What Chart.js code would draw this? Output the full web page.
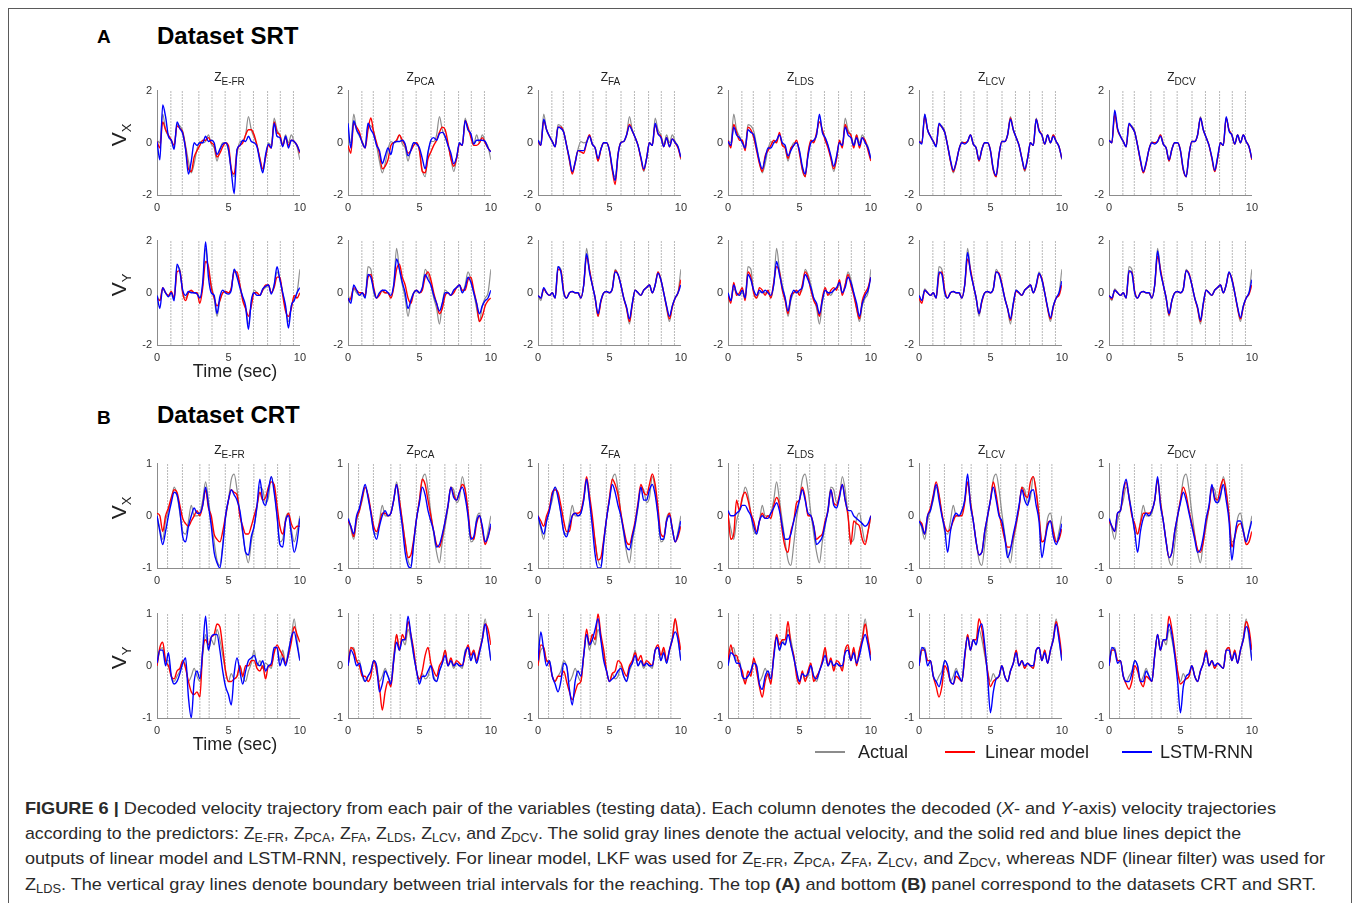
<!DOCTYPE html>
<html>
<head>
<meta charset="utf-8">
<script src="https://cdn.jsdelivr.net/npm/chart.js@4.4.0/dist/chart.umd.min.js"></script>
<style>
  html, body { margin: 0; padding: 0; background: #fff; }
  body { width: 1360px; height: 903px; position: relative; overflow: hidden; font-family: "Liberation Sans", Arial, sans-serif; }
  .frame { position: absolute; left: 8px; top: 8px; width: 1342px; height: 920px; border: 1.5px solid #5a5a5a; }
  .abs { position: absolute; white-space: nowrap; color: #000; }
  .letter { font-weight: bold; font-size: 19px; line-height: 19px; }
  .dtitle { font-weight: bold; font-size: 24px; line-height: 24px; }
  .ptitle { font-size: 12px; line-height: 12px; color: #222; transform: translateX(-50%); }
  .ptitle sub { font-size: 10px; vertical-align: -4px; }
  .ylab { font-size: 21px; line-height: 21px; color: #222; transform: translate(-50%, -50%) rotate(-90deg); }
  .ylab sub { font-size: 13px; vertical-align: -5px; }
  .xlab { font-size: 18px; line-height: 18px; color: #222; transform: translate(-50%, -50%); }
  .leg { font-size: 18px; line-height: 18px; color: #222; }
  .legline { position: absolute; height: 2px; }
  .cap { position: absolute; left: 25px; font-size: 17px; line-height: 17px; color: #2a2a2a; white-space: nowrap;
         font-family: "Liberation Sans Narrow", "Liberation Sans", Arial, sans-serif; transform-origin: 0 50%; }
  .cap sub { font-size: 12px; vertical-align: -3px; }
  .panel { position: absolute; }
</style>
</head>
<body>
<div class="frame"></div>

<div class="abs letter" style="left:97px; top:27px;">A</div>
<div class="abs dtitle" style="left:157px; top:24px;">Dataset SRT</div>
<div class="abs letter" style="left:97px; top:408px;">B</div>
<div class="abs dtitle" style="left:157px; top:403px;">Dataset CRT</div>

<div id="panels"></div>

<div class="legline" style="left:815px; top:751px; width:30px; background:#8c8c8c;"></div>
<div class="abs leg" style="left:858px; top:743px;">Actual</div>
<div class="legline" style="left:945px; top:751px; width:30px; background:#ff0000;"></div>
<div class="abs leg" style="left:985px; top:743px;">Linear model</div>
<div class="legline" style="left:1122px; top:751px; width:30px; background:#0000ff;"></div>
<div class="abs leg" style="left:1160px; top:743px;">LSTM-RNN</div>

<div class="cap" data-w="1251" style="top:800px;"><b>FIGURE 6 |</b> Decoded velocity trajectory from each pair of the variables (testing data). Each column denotes the decoded (<i>X</i>- and <i>Y</i>-axis) velocity trajectories</div>
<div class="cap" data-w="1216" style="top:825px;">according to the predictors: Z<sub>E-FR</sub>, Z<sub>PCA</sub>, Z<sub>FA</sub>, Z<sub>LDS</sub>, Z<sub>LCV</sub>, and Z<sub>DCV</sub>. The solid gray lines denote the actual velocity, and the solid red and blue lines depict the</div>
<div class="cap" data-w="1300" style="top:850px;">outputs of linear model and LSTM-RNN, respectively. For linear model, LKF was used for Z<sub>E-FR</sub>, Z<sub>PCA</sub>, Z<sub>FA</sub>, Z<sub>LCV</sub>, and Z<sub>DCV</sub>, whereas NDF (linear filter) was used for</div>
<div class="cap" data-w="1291" style="top:876px;">Z<sub>LDS</sub>. The vertical gray lines denote boundary between trial intervals for the reaching. The top <b>(A)</b> and bottom <b>(B)</b> panel correspond to the datasets CRT and SRT.</div>

<script>
// time axis (sec)
const time = [0,0.2,0.4,0.6,0.8,1,1.2,1.4,1.6,1.8,2,2.2,2.4,2.6,2.8,3,3.2,3.4,3.6,3.8,4,4.2,4.4,4.6,4.8,5,5.2,5.4,5.6,5.8,6,6.2,6.4,6.6,6.8,7,7.2,7.4,7.6,7.8,8,8.2,8.4,8.6,8.8,9,9.2,9.4,9.6,9.8,10];
const predictors = ["E-FR", "PCA", "FA", "LDS", "LCV", "DCV"];
const xTicks = [0, 5, 10];

// trial boundaries (sec)
const srtBounds = [0.97, 1.77, 2.93, 3.85, 4.77, 5.81, 6.75, 7.74, 8.63, 9.55];
const crtBounds = [0.74, 1.78, 3.0, 3.65, 4.78, 5.72, 6.78, 7.57, 8.44, 9.3];

// ---- Dataset SRT, V_X ----
const srtVxActual = [0.1,0.0,1.1,0.5,0.25,0.05,-0.15,0.7,0.65,0.45,
  -0.1,-0.7,-1.15,-0.8,-0.25,0.05,0.0,0.05,0.3,-0.05,
  -0.2,-0.7,-0.25,0.0,0.0,-0.3,-1.05,-1.3,-0.45,0.05,
  0.05,0.3,1.0,0.5,0.2,-0.1,-0.6,-1.1,-0.6,0.0,
  -0.1,0.95,0.5,0.3,-0.05,0.3,0.0,0.3,0.05,-0.15,
  -0.65];
const srtVxLinear = [
  [0.05,-0.2,0.8,0.5,0.3,0.1,-0.1,0.65,0.55,0.4,
   -0.2,-1.0,-1.1,-0.55,-0.3,-0.1,0.1,0.1,0.2,0.0,
   -0.1,-0.55,-0.4,-0.15,0.0,-0.1,-1.0,-1.2,-0.3,-0.1,
   0.0,0.3,0.5,0.5,0.3,-0.1,-0.6,-1.0,-0.55,-0.1,
   -0.2,0.8,0.4,0.3,-0.1,0.2,-0.1,0.1,0.05,-0.1,
   -0.4],
  [-0.1,-0.4,0.75,0.6,0.4,0.0,-0.2,0.5,0.95,0.4,
   0.0,-0.4,-1.0,-0.9,-0.65,-0.1,0.0,0.1,0.3,0.1,
   -0.1,-0.4,-0.3,-0.1,0.0,-0.3,-1.1,-1.15,-0.6,-0.35,
   -0.1,0.1,0.4,0.6,0.5,0.0,-0.6,-0.9,-0.6,-0.05,
   -0.1,0.85,0.6,0.2,-0.1,-0.1,0.0,0.2,0.0,-0.2,
   -0.35],
  [0.05,-0.1,0.85,0.5,0.25,0.05,-0.15,0.6,0.6,0.4,
   -0.1,-0.65,-1.2,-0.75,-0.3,-0.35,-0.4,0.0,0.3,-0.05,
   -0.2,-0.7,-0.25,0.0,0.0,-0.3,-1.05,-1.6,-0.45,0.0,
   0.05,0.3,0.7,0.45,0.2,-0.1,-0.6,-1.05,-0.6,0.0,
   -0.1,0.7,0.35,0.25,-0.15,0.2,-0.15,0.15,0.0,-0.2,
   -0.6],
  [0.1,-0.2,0.7,0.4,0.1,0.1,-0.3,0.6,0.5,0.2,
   -0.3,-0.8,-1.1,-0.5,-0.3,-0.1,0.1,0.0,0.4,-0.1,
   -0.2,-0.6,-0.2,-0.1,0.1,-0.4,-1.0,-1.3,-0.4,0.1,
   0.0,0.4,0.8,0.5,0.1,-0.2,-0.6,-1.0,-0.6,0.1,
   -0.2,0.7,0.4,0.3,-0.2,0.3,-0.2,0.2,0.1,-0.3,
   -0.7],
  [0.05,0.0,1.0,0.5,0.25,0.05,-0.1,0.7,0.6,0.4,
   -0.1,-0.7,-1.1,-0.75,-0.25,0.0,0.0,0.05,0.3,-0.05,
   -0.2,-0.7,-0.25,0.0,0.0,-0.3,-1.05,-1.3,-0.45,0.05,
   0.05,0.3,0.95,0.5,0.2,-0.1,-0.6,-1.05,-0.6,0.0,
   -0.1,0.9,0.5,0.3,-0.05,0.3,0.0,0.3,0.05,-0.15,
   -0.6],
  [0.1,0.0,1.1,0.5,0.25,0.05,-0.15,0.7,0.6,0.4,
   -0.1,-0.7,-1.15,-0.8,-0.25,0.0,0.0,0.05,0.3,-0.05,
   -0.2,-0.7,-0.25,0.0,0.0,-0.3,-1.05,-1.3,-0.45,0.05,
   0.05,0.3,0.95,0.5,0.2,-0.1,-0.6,-1.1,-0.6,0.0,
   -0.1,0.95,0.5,0.3,-0.05,0.3,0.0,0.3,0.05,-0.15,
   -0.65]
];
const srtVxLstm = [
  [0.05,-0.65,1.45,1.0,0.25,0.1,-0.25,0.8,0.55,0.35,
   -0.25,-1.2,-0.7,0.0,-0.1,0.0,0.0,0.25,0.05,0.1,
   0.0,-0.45,-0.25,-0.05,0.0,-0.25,-1.1,-1.95,-0.25,-0.1,
   0.1,0.05,0.25,0.05,0.0,-0.15,-0.7,-1.15,-0.45,-0.05,
   -0.2,0.75,0.25,0.2,-0.15,0.25,-0.2,0.1,0.05,-0.1,
   -0.35],
  [0.75,-0.2,0.85,0.5,0.3,0.0,-0.2,0.75,0.5,0.3,
   -0.1,-0.3,-0.8,-0.5,-0.2,-0.45,0.0,0.05,0.05,0.1,
   -0.05,-0.5,-0.3,0.0,-0.05,-0.2,-0.6,-1.0,-0.35,0.1,
   0.2,0.1,0.35,0.4,0.25,-0.1,-0.4,-0.8,-0.55,0.0,
   -0.1,0.85,0.5,0.35,-0.05,0.1,0.1,0.1,0.05,-0.2,
   -0.35],
  [0.1,-0.1,0.9,0.5,0.25,0.05,-0.15,0.6,0.55,0.4,
   -0.1,-0.6,-1.1,-0.75,-0.3,-0.3,-0.3,0.0,0.25,-0.05,
   -0.2,-0.6,-0.25,0.0,0.0,-0.3,-0.95,-1.45,-0.45,0.0,
   0.05,0.3,0.65,0.45,0.2,-0.1,-0.55,-1.0,-0.6,0.0,
   -0.1,0.75,0.35,0.2,-0.15,0.2,-0.15,0.15,0.0,-0.15,
   -0.55],
  [0.05,-0.1,0.6,0.3,0.2,0.0,-0.2,0.5,0.4,0.3,
   -0.2,-0.7,-1.0,-0.6,-0.2,-0.2,0.0,0.1,0.3,0.0,
   -0.1,-0.5,-0.3,-0.1,0.0,-0.3,-0.9,-1.2,-0.5,0.0,
   0.1,0.3,1.1,0.4,0.2,-0.1,-0.5,-0.9,-0.5,0.0,
   -0.1,0.6,0.3,0.2,-0.1,0.2,-0.1,0.2,0.0,-0.2,
   -0.6],
  [0.05,-0.05,1.1,0.5,0.25,0.05,-0.15,0.75,0.6,0.4,
   -0.1,-0.65,-1.05,-0.75,-0.25,0.0,-0.05,0.05,0.3,-0.05,
   -0.2,-0.65,-0.25,0.0,0.0,-0.3,-1.0,-1.25,-0.45,0.05,
   0.05,0.3,0.9,0.5,0.2,-0.1,-0.6,-1.0,-0.6,0.0,
   -0.1,0.9,0.45,0.3,-0.05,0.3,0.0,0.25,0.05,-0.15,
   -0.6],
  [0.1,0.0,1.25,0.55,0.25,0.05,-0.15,0.75,0.6,0.4,
   -0.1,-0.65,-1.1,-0.75,-0.25,0.0,-0.05,0.05,0.25,-0.05,
   -0.2,-0.65,-0.25,0.0,0.0,-0.3,-1.0,-1.3,-0.45,0.05,
   0.05,0.3,0.95,0.5,0.2,-0.1,-0.55,-1.05,-0.55,0.0,
   -0.1,1.0,0.45,0.3,-0.05,0.3,0.0,0.3,0.05,-0.15,
   -0.6]
];

// ---- Dataset SRT, V_Y ----
const srtVyActual = [-0.1,-0.3,0.15,0.0,-0.1,0.0,-0.2,1.0,0.9,0.0,
  -0.2,0.0,0.05,0.0,0.0,-0.2,0.3,1.7,0.9,0.3,
  -0.2,-0.9,-0.3,0.0,0.05,0.0,0.15,0.9,0.7,0.3,
  -0.2,-0.6,-1.2,-0.4,0.1,0.0,-0.1,0.1,0.2,0.3,
  0.0,0.3,0.8,0.5,0.0,-0.6,-1.1,-0.5,-0.2,0.0,
  0.9];
const srtVyLinear = [
  [-0.2,-0.3,0.2,0.0,-0.1,0.05,-0.2,0.8,0.85,0.0,
   -0.3,0.0,0.1,0.0,0.0,-0.4,0.2,1.2,1.0,0.2,
   -0.2,-0.5,-0.3,0.0,0.05,0.0,0.2,0.8,0.8,0.3,
   -0.3,-0.6,-0.9,-0.5,0.0,0.0,-0.1,0.1,0.3,0.3,
   0.0,0.2,0.6,0.6,-0.1,-0.7,-0.9,-0.6,-0.1,-0.2,
   0.0],
  [-0.3,-0.2,0.2,0.1,0.0,0.0,-0.1,0.6,0.7,0.2,
   -0.2,-0.1,0.1,0.0,0.0,-0.2,0.2,0.9,1.1,0.6,
   0.3,-0.2,-0.4,0.0,0.1,0.0,0.1,0.6,0.8,0.5,
   0.0,-0.4,-0.8,-0.6,-0.1,0.0,-0.1,0.0,0.2,0.3,
   0.1,0.1,0.5,0.6,0.1,-0.4,-1.1,-0.9,-0.5,-0.3,
   -0.2],
  [-0.1,-0.2,0.15,0.0,-0.1,0.0,-0.2,0.9,0.85,0.05,
   -0.2,0.0,0.05,0.0,0.0,-0.2,0.3,1.4,0.9,0.3,
   -0.2,-0.9,-0.35,0.0,0.05,0.0,0.15,0.85,0.7,0.3,
   -0.2,-0.6,-1.1,-0.45,0.1,0.0,-0.1,0.1,0.2,0.3,
   0.0,0.3,0.8,0.5,0.0,-0.55,-1.0,-0.55,-0.2,0.0,
   0.5],
  [-0.1,-0.4,0.4,-0.1,0.0,0.2,-0.3,0.8,0.6,0.0,
   -0.2,0.2,0.1,-0.1,0.1,-0.2,0.4,1.0,0.8,0.1,
   -0.3,-0.8,-0.1,0.0,0.1,-0.1,0.3,0.8,0.6,0.1,
   -0.3,-0.5,-0.9,-0.2,0.2,-0.1,0.1,0.2,0.1,0.5,
   -0.1,0.3,0.7,0.3,-0.1,-0.6,-1.0,-0.3,0.0,0.2,
   0.6],
  [-0.2,-0.4,0.1,0.0,-0.1,0.0,-0.2,0.7,0.8,0.1,
   -0.2,0.0,0.05,0.0,0.0,-0.2,0.3,1.3,0.9,0.3,
   -0.2,-0.8,-0.35,0.0,0.05,0.0,0.15,0.8,0.75,0.35,
   -0.2,-0.6,-1.05,-0.45,0.05,0.0,-0.1,0.1,0.2,0.3,
   0.0,0.25,0.7,0.55,0.0,-0.6,-1.0,-0.55,-0.2,-0.1,
   0.3],
  [-0.1,-0.25,0.1,0.0,-0.1,0.0,-0.2,0.8,0.8,0.05,
   -0.2,0.0,0.05,0.0,0.0,-0.2,0.3,1.4,0.9,0.3,
   -0.2,-0.85,-0.3,0.0,0.05,0.0,0.15,0.85,0.75,0.3,
   -0.2,-0.6,-1.1,-0.45,0.1,0.0,-0.1,0.1,0.2,0.3,
   0.0,0.3,0.75,0.55,0.0,-0.6,-1.0,-0.55,-0.2,-0.05,
   0.3]
];
const srtVyLstm = [
  [-0.1,-0.6,0.2,0.0,-0.15,0.0,-0.3,1.1,0.8,0.1,
   -0.1,0.05,0.0,0.0,-0.05,-0.2,0.4,1.95,0.6,0.0,
   -0.1,-0.8,-0.15,0.1,0.0,-0.05,0.1,0.9,0.6,0.2,
   -0.15,-0.5,-1.4,-0.3,0.0,-0.1,-0.1,0.15,0.25,0.3,
   -0.05,0.3,1.0,0.5,0.0,-0.5,-1.35,-0.5,-0.3,0.0,
   0.2],
  [-0.2,-0.4,0.3,0.1,-0.1,0.0,-0.2,0.7,0.6,0.1,
   -0.2,0.0,0.1,0.1,0.0,-0.1,0.3,1.3,0.9,0.4,
   0.0,-0.6,-0.3,0.0,0.1,0.0,0.2,0.7,0.5,0.3,
   -0.1,-0.4,-0.7,-0.4,0.0,0.0,-0.1,0.1,0.2,0.3,
   0.0,0.2,0.6,0.4,0.0,-0.4,-0.8,-0.5,-0.3,-0.2,
   0.1],
  [-0.1,-0.2,0.2,0.0,-0.1,0.0,-0.2,1.0,0.8,0.0,
   -0.2,0.0,0.05,0.0,0.0,-0.2,0.3,1.5,0.8,0.3,
   -0.2,-0.8,-0.3,0.0,0.05,0.0,0.15,0.8,0.7,0.3,
   -0.2,-0.55,-1.0,-0.4,0.1,0.0,-0.1,0.1,0.2,0.3,
   0.0,0.3,0.75,0.5,0.0,-0.5,-0.9,-0.5,-0.2,0.0,
   0.3],
  [0.0,-0.3,0.3,0.0,-0.1,0.1,-0.2,0.7,0.5,0.1,
   -0.1,0.1,0.0,0.1,0.0,-0.1,0.3,1.2,0.7,0.2,
   -0.2,-0.7,-0.2,0.1,0.0,0.1,0.2,0.7,0.5,0.2,
   -0.2,-0.4,-0.8,-0.3,0.1,0.0,0.0,0.1,0.2,0.4,
   0.0,0.2,0.6,0.4,0.0,-0.4,-0.9,-0.4,-0.1,0.1,
   0.6],
  [-0.1,-0.3,0.1,0.0,-0.1,0.0,-0.2,0.8,0.7,0.0,
   -0.2,0.0,0.05,0.0,0.0,-0.2,0.3,1.55,0.8,0.3,
   -0.2,-0.8,-0.3,0.0,0.05,0.0,0.15,0.8,0.7,0.3,
   -0.2,-0.6,-1.0,-0.4,0.1,0.0,-0.1,0.1,0.2,0.3,
   0.0,0.3,0.75,0.5,0.0,-0.55,-0.95,-0.5,-0.2,0.0,
   0.45],
  [-0.1,-0.2,0.1,0.0,-0.1,0.0,-0.2,0.85,0.75,0.0,
   -0.2,0.0,0.05,0.0,0.0,-0.2,0.3,1.6,0.8,0.3,
   -0.2,-0.8,-0.3,0.0,0.05,0.0,0.15,0.85,0.7,0.3,
   -0.2,-0.55,-1.05,-0.4,0.1,0.0,-0.1,0.1,0.2,0.3,
   0.0,0.3,0.8,0.5,0.0,-0.55,-0.95,-0.5,-0.2,0.0,
   0.5]
];

// ---- Dataset CRT, V_X ----
const crtVxActual = [0.0,-0.25,-0.45,-0.1,0.1,0.3,0.55,0.4,0.05,-0.3,
  -0.35,-0.1,0.2,0.0,0.0,0.05,0.3,0.65,0.3,-0.1,
  -0.5,-0.85,-0.95,-0.55,-0.05,0.3,0.7,0.8,0.5,0.05,
  -0.35,-0.7,-0.9,-0.5,-0.2,0.15,0.55,0.5,0.25,0.35,
  0.75,0.5,0.0,-0.5,-0.45,-0.05,0.05,-0.25,-0.5,-0.3,
  0.0];
const crtVxLinear = [
  [0.05,0.0,-0.3,0.0,0.15,0.35,0.5,0.45,0.2,-0.05,
   -0.15,-0.2,-0.1,0.0,0.1,0.0,0.2,0.5,0.15,0.0,
   -0.35,-0.45,-0.5,-0.3,0.0,0.3,0.5,0.45,0.4,0.0,
   -0.2,-0.35,-0.35,-0.2,0.0,0.2,0.45,0.3,0.35,0.55,
   0.65,0.6,0.2,-0.2,-0.35,-0.1,0.05,-0.15,-0.25,-0.2,
   -0.2],
  [-0.1,-0.2,-0.4,-0.05,0.1,0.35,0.55,0.4,0.1,-0.2,
   -0.3,-0.15,0.05,0.05,0.0,0.05,0.3,0.6,0.3,-0.1,
   -0.5,-0.8,-0.75,-0.45,-0.05,0.3,0.7,0.6,0.3,0.0,
   -0.3,-0.55,-0.6,-0.4,-0.1,0.2,0.55,0.4,0.3,0.45,
   0.6,0.5,0.1,-0.4,-0.45,-0.15,0.0,-0.25,-0.55,-0.4,
   -0.2],
  [0.0,-0.1,-0.2,0.0,0.15,0.45,0.5,0.45,0.2,-0.1,
   -0.3,-0.3,0.0,0.05,0.05,0.1,0.35,0.75,0.4,0.0,
   -0.5,-0.85,-0.8,-0.45,-0.05,0.35,0.7,0.6,0.4,0.05,
   -0.25,-0.5,-0.55,-0.35,-0.1,0.25,0.6,0.45,0.4,0.6,
   0.8,0.6,0.15,-0.35,-0.4,-0.1,0.05,-0.25,-0.5,-0.4,
   -0.2],
  [0.05,-0.45,-0.35,0.3,0.1,0.35,0.45,0.3,0.05,-0.1,
   -0.3,-0.1,0.05,-0.05,0.0,-0.05,0.2,0.35,0.2,-0.3,
   -0.6,-0.7,-0.3,-0.1,0.25,0.3,0.55,0.35,0.0,0.0,
   -0.2,-0.45,-0.4,-0.35,-0.1,0.1,0.5,0.25,0.2,0.4,
   0.6,0.3,0.0,-0.55,-0.1,-0.15,-0.2,-0.45,-0.55,-0.3,
   0.0],
  [-0.1,-0.15,-0.35,0.0,0.15,0.4,0.65,0.4,0.05,-0.2,
   -0.3,-0.25,-0.1,0.0,0.0,0.0,0.25,0.65,0.25,-0.1,
   -0.5,-0.75,-0.7,-0.3,0.0,0.3,0.65,0.4,0.05,-0.2,
   -0.45,-0.6,-0.6,-0.4,-0.15,0.15,0.55,0.4,0.35,0.65,
   0.75,0.45,0.0,-0.5,-0.45,-0.15,-0.1,-0.3,-0.5,-0.45,
   -0.25],
  [-0.1,-0.2,-0.3,0.05,0.1,0.45,0.65,0.35,0.0,-0.15,
   -0.35,-0.15,0.05,0.05,0.05,0.1,0.3,0.7,0.25,-0.1,
   -0.5,-0.8,-0.7,-0.3,0.0,0.3,0.55,0.4,0.1,-0.15,
   -0.4,-0.65,-0.7,-0.5,-0.1,0.15,0.55,0.35,0.3,0.55,
   0.7,0.45,0.0,-0.6,-0.4,-0.2,-0.15,-0.3,-0.55,-0.5,
   -0.3]
];
const crtVxLstm = [
  [0.0,-0.3,-0.55,-0.3,0.0,0.25,0.45,0.4,0.1,-0.4,
   -0.5,-0.2,0.0,0.15,0.05,0.05,0.2,0.55,0.2,-0.2,
   -0.7,-0.9,-1.0,-0.6,0.0,0.3,0.5,0.4,0.3,0.1,
   -0.3,-0.7,-0.75,-0.4,-0.2,0.2,0.7,0.3,0.2,0.5,
   0.75,0.45,0.0,-0.55,-0.6,-0.1,0.0,-0.35,-0.7,-0.5,
   -0.05],
  [-0.05,-0.2,-0.35,0.0,0.15,0.4,0.6,0.35,0.05,-0.3,
   -0.45,-0.2,0.0,0.1,0.0,0.05,0.3,0.6,0.2,-0.2,
   -0.7,-0.95,-1.0,-0.5,-0.05,0.25,0.55,0.4,0.1,-0.1,
   -0.3,-0.6,-0.55,-0.35,-0.1,0.2,0.55,0.35,0.3,0.45,
   0.55,0.35,0.0,-0.45,-0.4,-0.1,0.0,-0.2,-0.5,-0.4,
   -0.15],
  [0.0,-0.2,-0.35,-0.1,0.1,0.4,0.55,0.35,0.05,-0.3,
   -0.4,-0.2,0.0,0.05,0.0,0.05,0.3,0.7,0.3,-0.2,
   -0.75,-1.0,-1.0,-0.5,-0.05,0.3,0.6,0.45,0.2,0.0,
   -0.3,-0.6,-0.65,-0.4,-0.15,0.2,0.55,0.3,0.3,0.5,
   0.6,0.4,0.0,-0.45,-0.45,-0.1,0.0,-0.25,-0.5,-0.35,
   -0.1],
  [0.1,0.0,0.0,0.05,0.1,0.2,0.2,0.1,0.0,-0.2,
   -0.35,-0.1,0.0,-0.05,-0.05,0.05,0.15,0.25,0.1,-0.2,
   -0.45,-0.45,-0.35,-0.1,0.1,0.3,0.5,0.3,0.05,0.0,
   -0.2,-0.55,-0.5,-0.4,-0.15,0.1,0.5,0.2,0.15,0.35,
   0.6,0.3,0.1,0.1,0.0,-0.05,-0.1,-0.15,-0.2,-0.15,
   0.0],
  [-0.1,-0.2,-0.35,0.0,0.1,0.35,0.6,0.3,0.0,-0.25,
   -0.7,-0.3,-0.05,0.05,0.0,0.1,0.3,0.8,0.2,-0.1,
   -0.5,-0.75,-0.7,-0.3,0.0,0.3,0.55,0.3,0.0,-0.1,
   -0.4,-0.8,-0.65,-0.35,-0.1,0.2,0.5,0.3,0.2,0.45,
   0.5,0.2,-0.1,-0.8,-0.5,-0.2,-0.1,-0.4,-0.55,-0.4,
   -0.15],
  [-0.05,-0.2,-0.3,0.05,0.1,0.5,0.7,0.35,0.05,-0.3,
   -0.7,-0.3,-0.05,0.05,0.0,0.1,0.3,0.75,0.2,-0.1,
   -0.5,-0.8,-0.7,-0.3,0.0,0.25,0.45,0.3,0.05,-0.2,
   -0.45,-0.7,-0.65,-0.4,-0.05,0.2,0.6,0.3,0.25,0.4,
   0.6,0.3,-0.1,-0.85,-0.4,-0.1,-0.1,-0.3,-0.5,-0.3,
   -0.1]
];

// ---- Dataset CRT, V_Y ----
const crtVyActual = [0.0,0.3,0.35,0.1,0.1,-0.2,-0.3,-0.2,-0.1,0.1,
  0.0,-0.3,-0.2,-0.05,-0.2,-0.3,0.2,0.6,0.3,0.5,
  0.4,0.7,0.5,0.2,-0.1,-0.3,-0.15,-0.25,-0.2,0.0,
  -0.2,-0.3,-0.1,0.05,0.3,0.0,0.1,-0.05,0.05,0.0,
  -0.05,0.3,0.35,0.1,0.3,0.05,0.3,0.55,0.9,0.5,
  0.1];
const crtVyLinear = [
  [0.0,0.35,0.45,0.1,0.0,-0.2,-0.25,-0.1,-0.05,0.1,
   -0.05,-0.3,-0.5,-0.55,-0.5,-0.6,0.3,0.5,0.4,0.55,
   0.6,0.8,0.75,0.35,-0.1,-0.3,-0.3,-0.25,-0.2,0.0,
   -0.2,0.0,0.0,0.1,0.1,-0.05,-0.1,0.0,-0.25,0.0,
   0.0,0.25,0.4,0.3,0.2,0.05,0.2,0.45,0.75,0.6,
   0.45],
  [0.0,0.35,0.3,0.1,0.0,-0.2,-0.2,-0.3,-0.2,0.1,
   -0.1,-0.4,-0.85,-0.5,-0.3,-0.4,0.1,0.6,0.3,0.6,
   0.5,0.85,0.6,0.3,-0.1,-0.25,-0.1,0.2,0.35,0.05,
   -0.1,-0.2,0.0,0.1,0.3,0.0,0.15,0.0,0.1,0.05,
   0.0,0.2,0.4,0.2,0.3,0.1,0.3,0.5,0.8,0.7,
   0.4],
  [0.0,0.4,0.35,0.1,0.05,-0.2,-0.3,-0.2,-0.2,-0.1,
   -0.3,-0.5,-0.65,-0.5,-0.35,-0.3,0.2,0.7,0.4,0.6,
   0.5,1.0,0.6,0.3,-0.1,-0.3,-0.15,-0.1,0.1,0.05,
   -0.1,-0.2,0.0,0.1,0.25,0.1,0.2,0.0,0.1,0.05,
   0.0,0.3,0.4,0.2,0.35,0.1,0.3,0.5,0.9,0.6,
   0.3],
  [0.1,0.4,0.2,0.2,0.0,-0.1,-0.35,-0.1,-0.2,0.15,
   -0.1,-0.4,-0.6,-0.3,-0.15,-0.35,0.2,0.6,0.4,0.5,
   0.5,0.85,0.4,0.2,-0.2,-0.35,-0.1,-0.3,-0.1,0.05,
   -0.3,-0.2,-0.1,0.1,0.35,0.0,0.15,-0.1,0.1,0.05,
   -0.1,0.3,0.4,0.1,0.35,0.0,0.3,0.5,0.8,0.5,
   0.2],
  [0.0,0.3,0.3,0.1,0.1,-0.2,-0.4,-0.6,-0.4,0.0,
   -0.1,-0.3,-0.35,-0.2,-0.25,-0.3,0.15,0.6,0.3,0.5,
   0.5,0.9,0.7,0.3,-0.1,-0.4,-0.3,-0.25,-0.2,0.0,
   -0.2,-0.3,-0.1,0.05,0.3,0.0,0.1,-0.05,0.05,0.0,
   -0.05,0.3,0.35,0.1,0.3,0.05,0.3,0.5,0.85,0.6,
   0.2],
  [0.0,0.3,0.3,0.1,0.1,-0.2,-0.35,-0.45,-0.3,0.0,
   -0.1,-0.3,-0.4,-0.2,-0.25,-0.3,0.2,0.6,0.3,0.5,
   0.5,0.95,0.7,0.3,-0.1,-0.35,-0.3,-0.25,-0.2,0.0,
   -0.2,-0.3,-0.1,0.05,0.3,0.0,0.1,-0.05,0.05,0.0,
   -0.05,0.3,0.35,0.1,0.3,0.05,0.3,0.5,0.85,0.7,
   0.3]
];
const crtVyLstm = [
  [0.05,0.3,0.3,0.0,0.25,-0.2,-0.35,-0.3,-0.15,0.05,
   0.15,-0.6,-1.0,-0.3,-0.1,-0.25,0.3,0.95,0.3,0.55,
   0.6,0.6,0.3,-0.1,-0.4,-0.55,-0.75,-0.15,0.15,-0.1,
   -0.35,-0.1,0.1,0.15,0.2,0.05,0.0,0.1,-0.1,0.0,
   0.05,0.35,0.35,0.0,0.15,0.0,0.25,0.55,0.65,0.4,
   0.1],
  [0.0,0.3,0.2,0.0,0.05,-0.15,-0.3,-0.2,-0.1,0.1,
   0.0,-0.5,-0.35,-0.1,-0.2,-0.35,0.1,0.45,0.3,0.5,
   0.5,0.95,0.6,0.2,-0.1,-0.35,-0.2,-0.2,-0.1,0.0,
   -0.25,-0.3,-0.1,0.05,0.2,0.0,0.1,0.0,0.05,0.0,
   0.0,0.25,0.35,0.1,0.25,0.05,0.25,0.5,0.8,0.5,
   0.1],
  [0.1,0.65,0.3,0.0,0.1,-0.2,-0.35,-0.5,-0.3,0.05,
   0.0,-0.45,-0.75,-0.3,-0.1,-0.2,0.2,0.6,0.4,0.5,
   0.7,0.9,0.5,0.1,-0.1,-0.3,-0.25,-0.2,-0.1,-0.05,
   -0.2,-0.3,-0.05,0.05,0.2,0.0,0.1,0.0,0.05,0.0,
   0.0,0.3,0.35,0.1,0.25,0.05,0.3,0.5,0.65,0.5,
   0.1],
  [0.0,0.25,0.2,0.05,0.05,-0.2,-0.25,-0.2,-0.1,0.05,
   0.0,-0.35,-0.45,-0.2,-0.1,-0.25,0.15,0.55,0.3,0.45,
   0.4,0.6,0.4,0.15,-0.1,-0.3,-0.15,-0.2,-0.15,0.0,
   -0.2,-0.25,-0.1,0.05,0.2,0.0,0.1,0.0,0.05,0.0,
   0.0,0.25,0.3,0.1,0.25,0.05,0.2,0.45,0.6,0.4,
   0.1],
  [0.0,0.35,0.3,0.0,0.1,-0.2,-0.3,-0.4,-0.2,0.1,
   0.0,-0.3,-0.35,-0.1,-0.2,-0.3,0.2,0.55,0.3,0.5,
   0.4,0.7,0.8,0.4,-0.2,-0.9,-0.5,-0.25,-0.2,0.0,
   -0.2,-0.3,-0.1,0.05,0.25,0.0,0.1,0.0,0.05,0.0,
   0.0,0.3,0.35,0.1,0.25,0.05,0.3,0.5,0.8,0.5,
   0.1],
  [0.0,0.35,0.3,0.05,0.1,-0.2,-0.3,-0.3,-0.15,0.1,
   0.0,-0.3,-0.3,-0.1,-0.2,-0.3,0.2,0.6,0.3,0.5,
   0.5,0.8,0.6,0.2,-0.3,-0.9,-0.4,-0.2,-0.15,0.0,
   -0.2,-0.3,-0.1,0.05,0.25,0.0,0.1,0.0,0.05,0.0,
   -0.05,0.3,0.3,0.1,0.25,0.05,0.3,0.5,0.75,0.6,
   0.1]
];

// panel layout
const colLeft = [157, 348, 538, 728, 919, 1109];
const plotW = 145, plotH = 106;
const padL = 40, padR = 10, padT = 10, padB = 24;

const rows = [
  { top: 89,  axis: "X", range: 2, bounds: srtBounds, actual: srtVxActual, linear: srtVxLinear, lstm: srtVxLstm, titles: true,  timeLabel: false },
  { top: 239, axis: "Y", range: 2, bounds: srtBounds, actual: srtVyActual, linear: srtVyLinear, lstm: srtVyLstm, titles: false, timeLabel: true },
  { top: 462, axis: "X", range: 1, bounds: crtBounds, actual: crtVxActual, linear: crtVxLinear, lstm: crtVxLstm, titles: true,  timeLabel: false },
  { top: 612, axis: "Y", range: 1, bounds: crtBounds, actual: crtVyActual, linear: crtVyLinear, lstm: crtVyLstm, titles: false, timeLabel: true }
];

const tickFont = { family: "'Liberation Sans', Arial, sans-serif", size: 11 };
const holder = document.getElementById("panels");

function toPoints(vals) {
  return time.map((t, i) => ({ x: t, y: vals[i] }));
}

function boundPoints(bounds, r) {
  const pts = [];
  bounds.forEach(b => {
    pts.push({ x: b, y: -r }, { x: b, y: r }, { x: b, y: null });
  });
  return pts;
}

function addText(cls, html, left, top) {
  const d = document.createElement("div");
  d.className = "abs " + cls;
  d.innerHTML = html;
  d.style.left = left + "px";
  d.style.top = top + "px";
  document.body.appendChild(d);
}

rows.forEach(row => {
  predictors.forEach((p, c) => {
    const left = colLeft[c];
    const wrap = document.createElement("div");
    wrap.className = "panel";
    wrap.style.left = (left - padL) + "px";
    wrap.style.top = (row.top - padT) + "px";
    const cv = document.createElement("canvas");
    cv.width = padL + plotW + padR;
    cv.height = padT + plotH + padB;
    wrap.appendChild(cv);
    holder.appendChild(wrap);

    const line = (vals, color, order, w) => ({
      data: toPoints(vals), borderColor: color, borderWidth: w, pointRadius: 0,
      cubicInterpolationMode: "monotone", fill: false, order: order
    });

    new Chart(cv, {
      type: "line",
      data: {
        datasets: [
          line(row.lstm[c], "#0000ff", 0, 1.4),
          line(row.linear[c], "#ff0000", 1, 1.4),
          line(row.actual, "#8c8c8c", 2, 1.2),
          { data: boundPoints(row.bounds, row.range), borderColor: "rgba(160,160,160,0.75)",
            borderWidth: 1, borderDash: [2, 1], pointRadius: 0, spanGaps: false, order: 3 }
        ]
      },
      options: {
        responsive: false,
        animation: false,
        events: [],
        layout: { padding: { left: 0, right: padR, top: padT, bottom: 0 } },
        plugins: { legend: { display: false }, tooltip: { enabled: false } },
        scales: {
          x: {
            type: "linear", min: 0, max: 10,
            afterBuildTicks: s => { s.ticks = xTicks.map(v => ({ value: v })); },
            afterFit: s => { s.height = padB; },
            grid: { display: false, drawTicks: false },
            border: { display: true, color: "#8c8c8c", width: 1 },
            ticks: { font: tickFont, color: "#333", padding: 6, maxRotation: 0, autoSkip: false }
          },
          y: {
            min: -row.range, max: row.range,
            afterBuildTicks: s => { s.ticks = [-row.range, 0, row.range].map(v => ({ value: v })); },
            afterFit: s => { s.width = padL; },
            grid: { display: false, drawTicks: false },
            border: { display: true, color: "#8c8c8c", width: 1 },
            ticks: { font: tickFont, color: "#333", padding: 5, autoSkip: false }
          }
        }
      }
    });

    if (row.titles) {
      addText("ptitle", "Z<sub>" + p + "</sub>", left + plotW / 2, row.top - 18);
    }
  });

  addText("ylab", "V<sub>" + row.axis + "</sub>", 122, row.top + 46);
  if (row.timeLabel) addText("xlab", "Time (sec)", 235, row.top + plotH + 26);
});

// fit each caption line to its printed width
document.querySelectorAll(".cap").forEach(el => {
  const target = Number(el.dataset.w);
  const w = el.getBoundingClientRect().width;
  el.style.transform = "scaleX(" + (target / w).toFixed(4) + ")";
});
</script>
</body>
</html>
